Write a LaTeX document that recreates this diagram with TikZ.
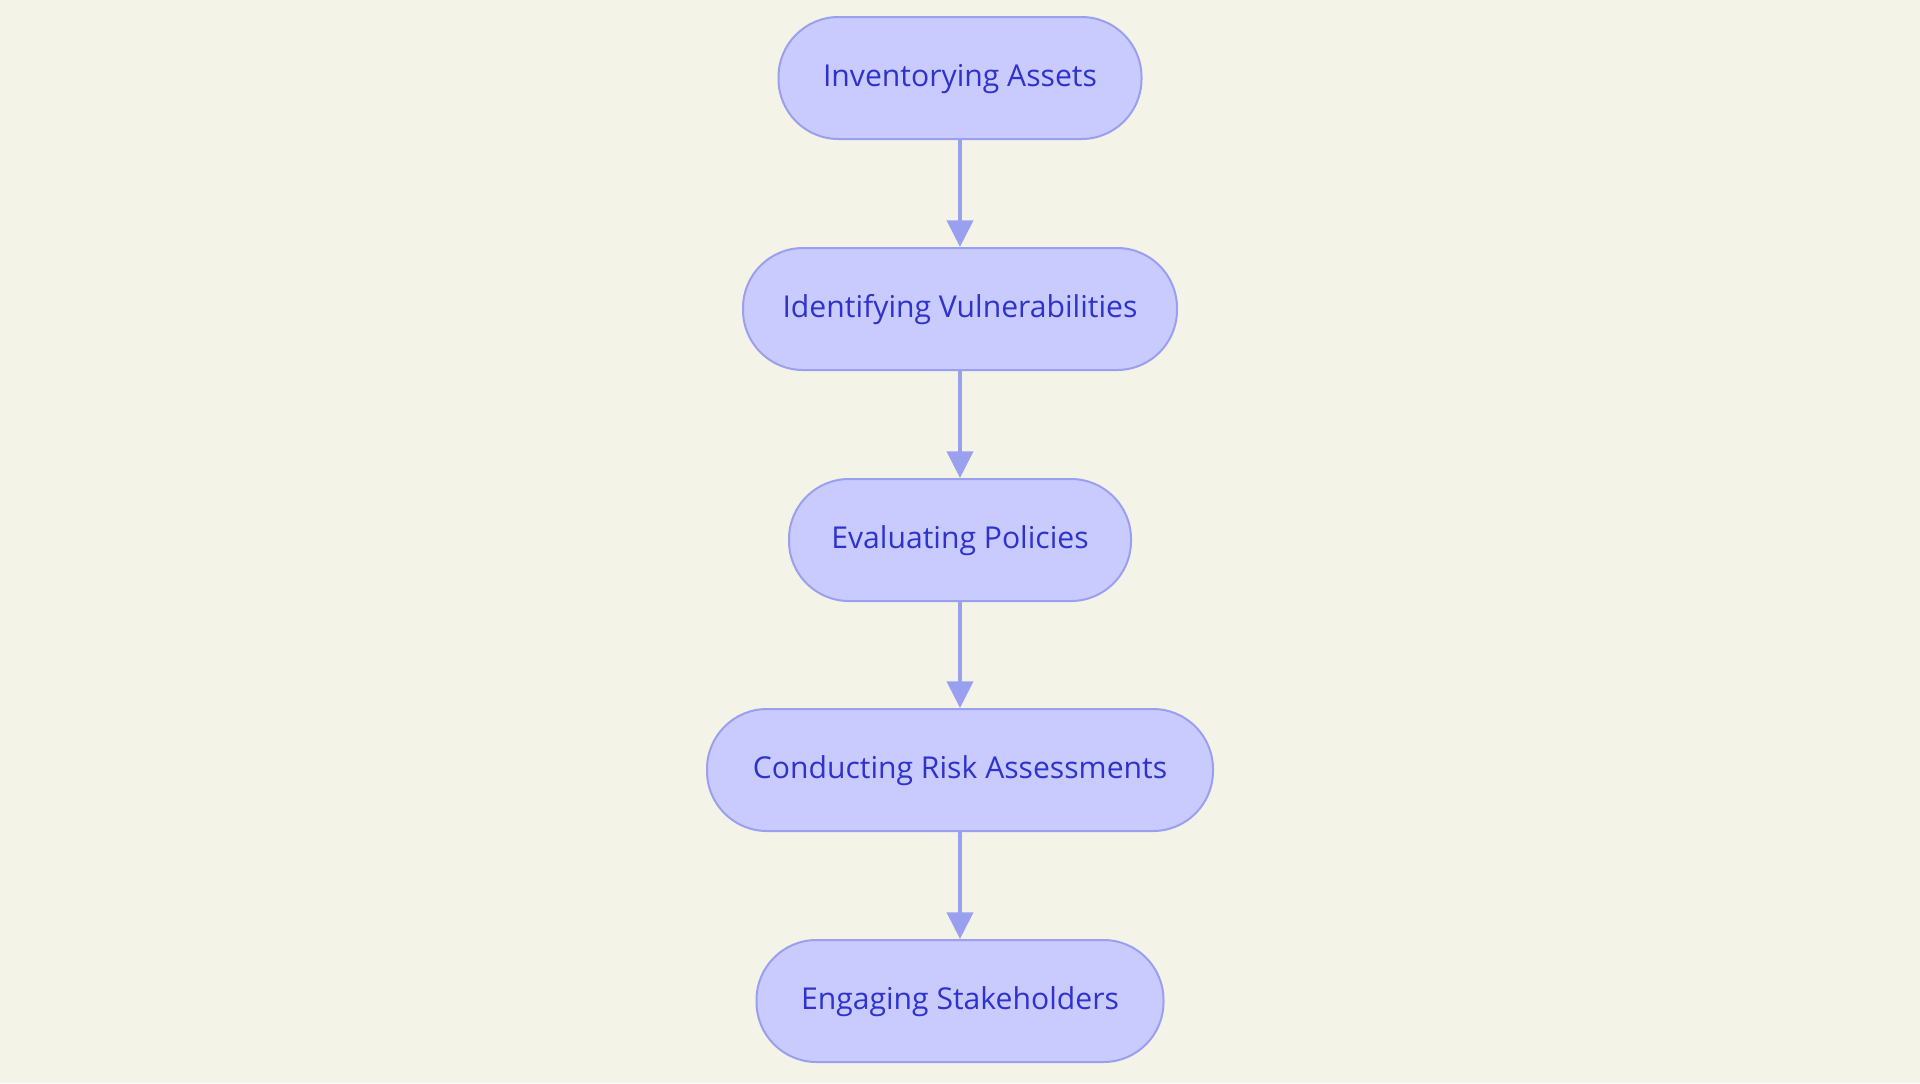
\documentclass[tikz,border=0pt]{standalone}
\usepackage{fontspec}
\setmainfont{Open Sans}
\usetikzlibrary{arrows.meta}
\definecolor{bg}{HTML}{F3F3E7}
\definecolor{nodefill}{HTML}{C9CAFD}
\definecolor{nodeline}{HTML}{9AA0F0}
\definecolor{txt}{HTML}{2E33CC}
\tikzset{
  stadium/.style={draw=nodeline, fill=nodefill, line width=1.5pt, rounded corners=45pt,
    minimum height=91.5pt, inner sep=0pt, text=txt, font=\fontsize{22.6}{26}\selectfont,
    text height=16.5pt, text depth=4pt},
  flow/.style={draw=nodeline, line width=3pt, -{Triangle[width=19.5pt,length=20pt]}}
}
\begin{document}
\begin{tikzpicture}[x=0.75pt,y=-0.75pt]
\fill[bg] (0,0) rectangle (1920,1083);
\useasboundingbox (0,0) rectangle (1920,1083);
\node[stadium, minimum width=272.25pt] (n1) at (960,78) {Inventorying Assets};
\node[stadium, minimum width=325.5pt] (n2) at (960,309) {Identifying Vulnerabilities};
\node[stadium, minimum width=256.5pt] (n3) at (960,540) {Evaluating Policies};
\node[stadium, minimum width=379.5pt] (n4) at (960,770) {Conducting Risk Assessments};
\node[stadium, minimum width=305.25pt] (n5) at (960,1001) {Engaging Stakeholders};
\draw[flow] (n1) -- (n2);
\draw[flow] (n2) -- (n3);
\draw[flow] (n3) -- (n4);
\draw[flow] (n4) -- (n5);
\end{tikzpicture}
\end{document}
